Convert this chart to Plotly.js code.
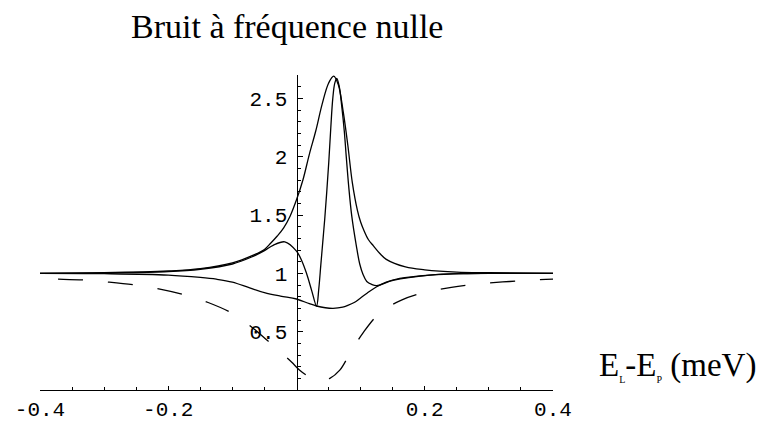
<!DOCTYPE html>
<html>
<head>
<meta charset="utf-8">
<script src="https://cdn.plot.ly/plotly-3.0.1.min.js"></script>
<style>html,body{margin:0;padding:0;background:#fff;}#chart{width:768px;height:422px;}</style>
</head>
<body>
<div id="chart"></div>
<script>
// Curve A: broad asymmetric peak (solid)
const xA = [-0.4,-0.3,-0.2,-0.15,-0.1,-0.07,-0.05,-0.04,-0.03,-0.02,-0.01,0,0.01,0.02,0.03,0.04,0.05,0.058,0.065,0.073,0.08,0.087,0.095,0.1,0.105,0.112,0.12,0.13,0.14,0.17,0.2,0.25,0.3,0.4];
const yA = [1.0,1.005,1.02,1.04,1.09,1.15,1.205,1.26,1.32,1.39,1.49,1.63,1.80,2.02,2.22,2.45,2.63,2.69,2.62,2.38,2.10,1.78,1.54,1.44,1.37,1.29,1.235,1.17,1.12,1.055,1.03,1.01,1.005,1.0];

// Curve B: bump, sharp dip and narrow peak (solid)
const xB = [-0.4,-0.3,-0.2,-0.15,-0.1,-0.07,-0.05,-0.0365,-0.0182,0,0.008,0.0156,0.0238,0.0312,0.0348,0.0379,0.041,0.0441,0.0472,0.0503,0.0535,0.0566,0.0597,0.0628,0.0667,0.0706,0.0745,0.0776,0.0815,0.0862,0.0932,0.0986,0.1038,0.1096,0.1173,0.1251,0.1505,0.2077,0.2592,0.3168,0.4];
const yB = [1.0,1.004,1.015,1.035,1.08,1.14,1.195,1.24,1.27,1.19,1.11,1.0,0.85,0.72,0.87,1.07,1.27,1.47,1.70,1.95,2.25,2.50,2.63,2.67,2.60,2.43,2.22,2.0,1.74,1.49,1.24,1.08,0.99,0.93,0.905,0.895,0.94,0.985,0.998,1.0,1.0];

// Curve C: broad dip (solid)
const xC = [-0.4,-0.3,-0.2,-0.15,-0.125,-0.1,-0.073,-0.05,-0.025,0,0.02,0.0312,0.045,0.057,0.072,0.08,0.09,0.099,0.11,0.125,0.14,0.161,0.2077,0.26,0.3,0.4];
const yC = [1.0,0.997,0.985,0.965,0.95,0.925,0.875,0.835,0.805,0.78,0.74,0.72,0.705,0.70,0.71,0.725,0.75,0.785,0.83,0.885,0.925,0.957,0.985,0.998,1.0,1.0];

// Curve D: deep dip (dashed)
const xD = [-0.4,-0.3715,-0.3326,-0.2936,-0.252,-0.213,-0.174,-0.1378,-0.1013,-0.0676,-0.0468,-0.037,-0.0078,0.005,0.0234,0.036,0.052,0.0675,0.083,0.1038,0.13,0.1636,0.2026,0.2415,0.2674,0.2934,0.3324,0.374,0.4];
const yD = [0.953,0.95,0.943,0.925,0.90,0.865,0.815,0.75,0.66,0.53,0.43,0.385,0.24,0.17,0.10,0.078,0.10,0.17,0.31,0.49,0.66,0.77,0.84,0.88,0.90,0.915,0.93,0.945,0.95];

// Ticks
const xTickVals = [-0.4,-0.2,0.2,0.4];
const xTickText = ["-0.4","-0.2","0.2","0.4"];
const xMinorVals = [-0.35,-0.3,-0.25,-0.15,-0.1,-0.05,0.05,0.1,0.15,0.25,0.3,0.35];
const yTickVals = [0.5,1,1.5,2,2.5];
const yTickText = ["0.5","1","1.5","2","2.5"];
const yMinorVals = [0.1,0.2,0.3,0.4,0.6,0.7,0.8,0.9,1.1,1.2,1.3,1.4,1.6,1.7,1.8,1.9,2.1,2.2,2.3,2.4,2.6,2.7];

const titleText = "Bruit à fréquence nulle";
const xLabel = 'E<sub><span style="font-size:10px">L</span></sub>-E<sub><span style="font-size:10px">P</span></sub> (meV)';

const serif = 'Liberation Serif, Times New Roman, serif';
const mono = 'Liberation Mono, Courier New, monospace';
const solid = {color:'#000', width:1.3, shape:'spline', smoothing:1};
const traces = [
  {x:xA, y:yA, mode:'lines', line:solid, hoverinfo:'skip'},
  {x:xB, y:yB, mode:'lines', line:solid, hoverinfo:'skip'},
  {x:xC, y:yC, mode:'lines', line:solid, hoverinfo:'skip'},
  {x:xD, y:yD, mode:'lines', line:{color:'#000', width:1.3, shape:'spline', smoothing:1, dash:'0px,18px,25px,7px'}, hoverinfo:'skip'}
];

const layout = {
  width:768, height:422,
  margin:{l:40, r:215, t:75, b:32, pad:0},
  paper_bgcolor:'#fff', plot_bgcolor:'#fff',
  showlegend:false,
  title:{text:titleText, font:{family:serif, size:34, color:'#000'},
         xref:'container', x:0.374, xanchor:'center', yref:'container', y:0.938, yanchor:'middle'},
  xaxis:{range:[-0.4,0.4], showline:true, linecolor:'#000', linewidth:1, showgrid:false, zeroline:false,
         ticks:'inside', ticklen:4, tickcolor:'#000', tickmode:'array', tickvals:xTickVals, ticktext:xTickText,
         tickfont:{family:mono, size:21, color:'#000'}, ticklabelstandoff:0,
         minor:{tickmode:'array', tickvals:xMinorVals, ticks:'inside', ticklen:3, tickcolor:'#000', showgrid:false}},
  yaxis:{range:[0,2.7], anchor:'free', position:0.5, side:'left', showline:true, linecolor:'#000', linewidth:1,
         showgrid:false, zeroline:false, ticks:'inside', ticklen:5, tickcolor:'#000', tickmode:'array',
         tickvals:yTickVals, ticktext:yTickText, tickfont:{family:mono, size:21, color:'#000'}, ticklabelstandoff:5,
         minor:{tickmode:'array', tickvals:yMinorVals, ticks:'inside', ticklen:3, tickcolor:'#000', showgrid:false}},
  annotations:[{text:xLabel, xref:'paper', yref:'paper', x:1.085, y:0.076, xanchor:'left', yanchor:'middle',
                showarrow:false, font:{family:serif, size:33, color:'#000'}}]
};
Plotly.newPlot('chart', traces, layout, {staticPlot:true, displayModeBar:false});
</script>
</body>
</html>
